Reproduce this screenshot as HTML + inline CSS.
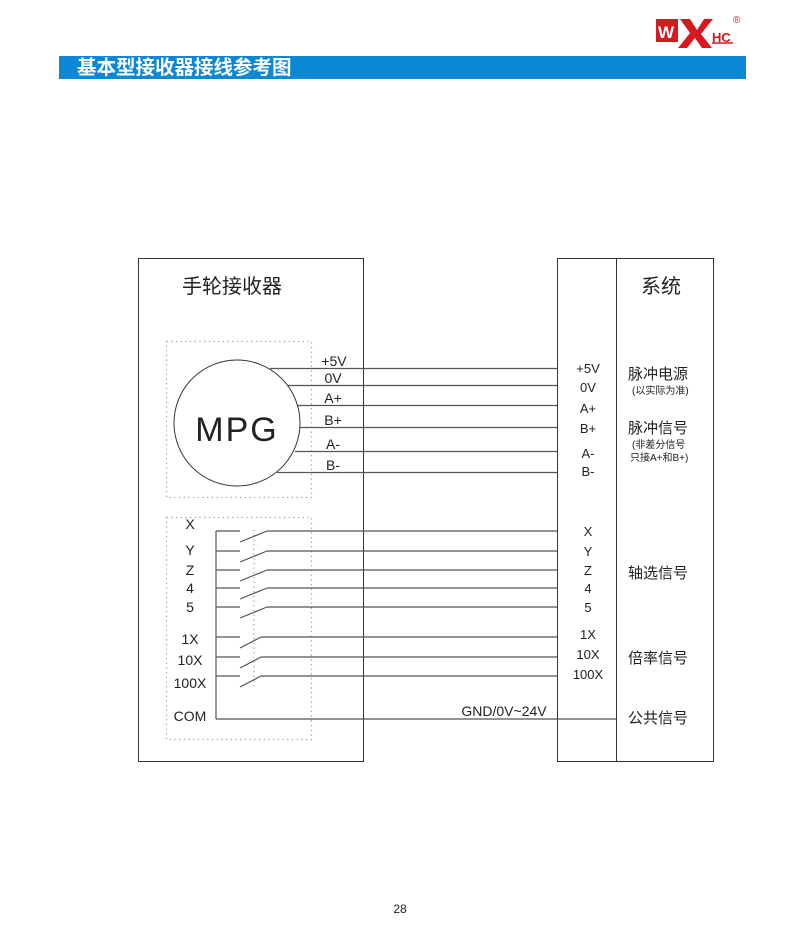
<!DOCTYPE html>
<html><head><meta charset="utf-8">
<style>
html,body{margin:0;padding:0;background:#fff;}
body{width:800px;height:941px;position:relative;overflow:hidden;font-family:"Liberation Sans","Noto Sans CJK SC",sans-serif;}
svg text{font-family:"Liberation Sans","Noto Sans CJK SC",sans-serif;}
</style></head><body>
<svg width="800" height="941" viewBox="0 0 800 941" xmlns="http://www.w3.org/2000/svg">
<!-- logo -->
<rect x="656" y="19" width="22" height="23" fill="#d7191f"/>
<text x="658" y="38" font-size="17" font-weight="bold" fill="#fff">W</text>
<polygon points="680,19 690,19 697,30 704,19 713,19 701,34 712,48 702,48 695,38 687,48 678,48 690,33" fill="#d7191f"/>
<text x="712" y="42" font-size="13" font-weight="bold" fill="#d7191f">HC</text>
<line x1="712" y1="43" x2="733" y2="43" stroke="#d7191f" stroke-width="1.5"/>
<text x="733" y="23" font-size="10" fill="#d7191f">®</text>
<!-- blue bar -->
<rect x="59" y="56" width="687" height="23" fill="#0a88d6"/>
<text x="77" y="74" font-size="19.5" font-weight="bold" fill="#fff">基本型接收器接线参考图</text>

<g stroke="#333" fill="none" stroke-width="1">
<rect x="138.5" y="258.5" width="225" height="503"/>
<rect x="557.5" y="258.5" width="156" height="503"/>
<line x1="616.5" y1="258" x2="616.5" y2="762"/>
</g>
<g stroke="#999" fill="none" stroke-width="1.2" stroke-dasharray="1.2,3.5">
<rect x="166.5" y="341.5" width="145" height="156"/>
<rect x="166.5" y="517.5" width="145" height="222"/>
<line x1="254" y1="530" x2="254" y2="688"/>
</g>
<circle cx="237" cy="423" r="63" fill="none" stroke="#333" stroke-width="1"/>
<g stroke="#555" stroke-width="1.2">
<line x1="270" y1="368.5" x2="557" y2="368.5"/>
<line x1="288" y1="385.5" x2="557" y2="385.5"/>
<line x1="298" y1="405.5" x2="557" y2="405.5"/>
<line x1="300" y1="427.5" x2="557" y2="427.5"/>
<line x1="295" y1="451.5" x2="557" y2="451.5"/>
<line x1="277" y1="472.5" x2="557" y2="472.5"/>
<line x1="216" y1="531" x2="216" y2="719"/>
<line x1="216" y1="719" x2="616" y2="719"/>
<g>
<line x1="216" y1="531" x2="240" y2="531"/><line x1="240" y1="542" x2="267" y2="531"/><line x1="267" y1="531" x2="557" y2="531"/>
<line x1="216" y1="551" x2="240" y2="551"/><line x1="240" y1="562" x2="267" y2="551"/><line x1="267" y1="551" x2="557" y2="551"/>
<line x1="216" y1="570" x2="240" y2="570"/><line x1="240" y1="581" x2="267" y2="570"/><line x1="267" y1="570" x2="557" y2="570"/>
<line x1="216" y1="588" x2="240" y2="588"/><line x1="240" y1="599" x2="267" y2="588"/><line x1="267" y1="588" x2="557" y2="588"/>
<line x1="216" y1="607" x2="240" y2="607"/><line x1="240" y1="618" x2="267" y2="607"/><line x1="267" y1="607" x2="557" y2="607"/>
<line x1="216" y1="637" x2="240" y2="637"/><line x1="240" y1="648" x2="261" y2="637"/><line x1="261" y1="637" x2="557" y2="637"/>
<line x1="216" y1="657" x2="240" y2="657"/><line x1="240" y1="668" x2="261" y2="657"/><line x1="261" y1="657" x2="557" y2="657"/>
<line x1="216" y1="676" x2="240" y2="676"/><line x1="240" y1="687" x2="261" y2="676"/><line x1="261" y1="676" x2="557" y2="676"/>
</g>
</g>

<g fill="#222">
<text x="182" y="293" font-size="20">手轮接收器</text>
<text x="641" y="293" font-size="20">系统</text>
<text x="237" y="441" font-size="34" text-anchor="middle" letter-spacing="2">MPG</text>
<g font-size="14" text-anchor="middle">
<text x="334" y="366">+5V</text>
<text x="333" y="383">0V</text>
<text x="333" y="403">A+</text>
<text x="333" y="425">B+</text>
<text x="333" y="449">A-</text>
<text x="333" y="470">B-</text>
<text x="190" y="529">X</text>
<text x="190" y="555">Y</text>
<text x="190" y="575">Z</text>
<text x="190" y="593">4</text>
<text x="190" y="612">5</text>
<text x="190" y="644">1X</text>
<text x="190" y="665">10X</text>
<text x="190" y="688">100X</text>
<text x="190" y="721">COM</text>
<text x="504" y="716">GND/0V~24V</text>
<g font-size="13">
<text x="588" y="373">+5V</text>
<text x="588" y="392">0V</text>
<text x="588" y="413">A+</text>
<text x="588" y="433">B+</text>
<text x="588" y="458">A-</text>
<text x="588" y="476">B-</text>
<text x="588" y="536">X</text>
<text x="588" y="556">Y</text>
<text x="588" y="575">Z</text>
<text x="588" y="593">4</text>
<text x="588" y="612">5</text>
<text x="588" y="639">1X</text>
<text x="588" y="659">10X</text>
<text x="588" y="679">100X</text>
</g>
</g>
<g font-size="15">
<text x="628" y="379">脉冲电源</text>
<text x="628" y="433">脉冲信号</text>
<text x="628" y="578">轴选信号</text>
<text x="628" y="663">倍率信号</text>
<text x="628" y="723">公共信号</text>
</g>
<g font-size="10">
<text x="632" y="394">(以实际为准)</text>
<text x="632" y="448">(非差分信号</text>
<text x="630" y="461">只接A+和B+)</text>
</g>
<text x="400" y="913" font-size="12" text-anchor="middle">28</text>
</g>
</svg>
</body></html>
